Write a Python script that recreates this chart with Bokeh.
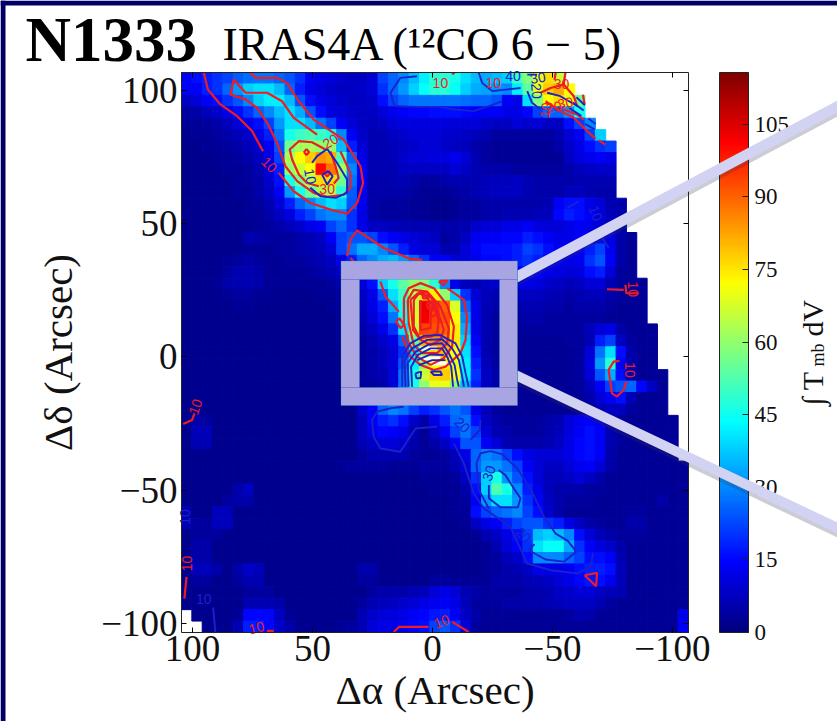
from bokeh.plotting import figure
from bokeh.embed import file_html
from bokeh.resources import INLINE
from bokeh.models import (ColumnDataSource, LinearColorMapper, ColorBar, FixedTicker, LinearAxis, Range1d,
                          Label, BoxAnnotation, PolyAnnotation)
from bokeh.transform import transform
from bokeh.core.properties import value

SERIF = "Liberation Serif"

# Integrated intensity per map cell (K km/s), top row first, columns left to right (east to west).
ROW_00 = [14,16,18,20,22,25,27,28,28,26,24,20,14,12,10,9,8,8,10,22,26,30,36,42,48,48,46,40,36,34,36,38,50,58,70,76,66]
ROW_01 = [14,14,18,20,26,32,38,40,40,36,26,18,12,10,9,8,8,9,10,20,26,32,38,44,48,48,44,38,34,33,32,30,42,54,70,78,82,72]
ROW_02 = [8,10,14,16,20,24,30,38,42,42,36,24,16,12,10,9,8,8,9,16,22,26,28,28,28,28,28,27,26,26,24,14,12,40,58,72,76,70,56]
ROW_03 = [4,5,7,9,12,16,20,26,30,36,40,34,24,16,11,10,9,8,8,10,13,14,15,15,16,16,16,15,14,14,14,12,12,15,22,26,26,32,45]
ROW_04 = [3,3,4,5,7,10,13,16,22,32,40,40,36,28,22,14,10,8,7,8,10,11,11,11,11,11,10,10,10,9,8,8,10,9,10,8,8,16,22,30]
ROW_05 = [2,3,3,4,5,7,9,12,18,28,46,50,52,50,46,30,14,9,6,6,8,9,10,10,10,9,9,8,7,6,4,4,4,4,4,4,6,10,14,22,38]
ROW_06 = [2,2,3,3,4,5,7,9,14,24,56,62,62,60,60,36,18,10,6,6,7,8,9,10,10,9,8,7,5,4,3,3,3,3,3,3,5,9,12,16,20,22]
ROW_07 = [2,2,2,3,3,4,5,8,12,22,62,72,78,84,82,52,26,12,6,6,7,9,10,10,11,11,13,10,6,4,3,3,3,3,3,3,3,8,11,13,14,12]
ROW_08 = [2,2,2,2,3,3,4,6,10,18,60,66,72,100,88,62,30,14,6,6,6,8,8,8,8,8,10,8,6,5,5,5,4,4,4,4,4,5,7,8,9,9]
ROW_09 = [2,2,2,2,2,3,4,5,9,16,46,56,64,76,76,56,28,14,5,5,6,6,5,4,4,5,6,6,6,7,7,7,8,6,5,5,5,5,6,6,6,6]
ROW_10 = [2,2,2,2,2,3,3,5,8,14,32,46,56,62,62,48,25,13,5,5,5,5,4,3,3,3,4,5,6,7,8,8,8,6,5,5,5,7,7,6,5,5]
ROW_11 = [2,2,2,2,2,2,3,4,6,10,18,26,30,36,40,38,24,13,5,4,4,4,3,3,2,2,3,4,4,5,5,5,5,5,5,6,14,16,16,12,10,6,5]
ROW_12 = [2,2,2,2,2,2,3,3,5,8,11,18,22,28,30,30,20,12,5,4,4,4,3,3,2,2,3,4,4,5,5,6,6,6,7,7,15,18,16,14,10,7,5]
ROW_13 = [2,2,2,2,2,2,2,3,4,5,7,9,12,14,22,26,20,12,8,8,7,6,6,6,6,5,5,6,9,10,10,12,12,14,11,10,10,12,14,12,10,7,5]
ROW_14 = [2,2,2,2,2,2,6,5,4,4,4,5,6,8,14,22,24,24,22,16,14,12,10,9,8,4,5,8,13,14,14,15,15,18,16,14,12,12,14,14,13,12,5,3]
ROW_15 = [2,2,2,2,2,2,3,3,3,4,4,5,6,7,10,22,28,34,34,30,24,18,12,10,10,6,6,10,14,16,16,16,18,22,20,16,14,12,14,18,22,13,5,3]
ROW_16 = [2,2,2,2,3,4,5,4,3,3,4,4,5,6,8,12,18,26,30,34,36,32,26,20,14,14,10,10,13,15,15,16,18,20,18,15,13,12,13,20,24,14,5,3]
ROW_17 = [2,2,2,2,4,6,6,5,3,3,3,3,4,5,6,8,12,18,26,34,40,44,42,36,28,20,12,8,10,12,12,14,14,16,14,12,11,10,11,16,18,10,4,3]
ROW_18 = [2,2,2,3,5,6,6,5,3,3,3,3,3,3,4,5,7,10,16,38,46,54,60,58,48,30,12,7,6,8,9,10,11,12,11,9,8,7,8,10,10,6,4,3,3]
ROW_19 = [2,2,2,2,3,4,4,3,3,2,2,2,2,3,3,4,5,8,12,24,40,50,64,76,74,60,38,20,10,7,6,6,7,8,8,7,6,5,6,7,7,5,4,3,3]
ROW_20 = [2,2,2,2,2,3,3,2,2,2,2,2,2,2,3,3,4,7,12,18,34,46,66,103,96,90,68,26,12,6,5,5,5,6,6,5,5,4,5,5,5,4,3,3,3]
ROW_21 = [2,2,2,2,2,2,2,2,2,2,2,2,2,2,2,3,4,6,10,16,28,44,68,102,94,92,72,30,12,6,4,4,4,5,5,4,4,4,4,4,4,3,3,3,3]
ROW_22 = [2,2,2,2,2,2,2,2,2,2,2,2,2,2,2,3,3,5,8,12,20,40,66,94,92,90,74,34,12,6,4,3,3,4,4,4,4,4,4,7,10,12,5,3,3,3]
ROW_23 = [2,2,2,2,2,2,2,2,2,2,2,2,2,2,2,3,3,4,6,9,12,26,54,80,85,85,75,38,14,6,4,3,3,3,3,3,3,4,4,6,18,22,8,4,3,3]
ROW_24 = [2,2,2,2,2,2,2,2,2,2,2,2,2,2,2,2,3,4,5,7,10,20,40,62,78,80,72,40,16,6,4,3,3,3,3,3,3,3,4,10,28,40,16,5,3,3]
ROW_25 = [2,2,2,2,2,2,2,2,2,2,2,2,2,2,2,2,3,4,5,7,10,24,42,60,72,75,70,42,18,7,4,3,3,3,3,3,3,3,4,11,32,48,14,5,3,3]
ROW_26 = [2,2,2,2,2,2,2,2,2,2,2,2,2,2,2,2,3,4,5,6,10,28,46,66,76,78,72,42,20,8,5,3,3,3,3,3,3,3,4,10,24,34,16,5,3,3,3]
ROW_27 = [2,2,2,2,2,2,2,2,2,2,2,2,2,2,2,2,3,4,4,5,10,28,46,60,70,70,60,36,18,8,5,3,3,3,3,3,3,3,4,7,14,22,24,26,15,8,3]
ROW_28 = [2,2,2,2,2,2,2,2,2,2,2,2,2,2,2,2,3,4,4,5,9,24,36,40,44,44,40,28,15,7,5,3,3,3,3,3,3,3,3,5,10,14,16,7,3,3,3]
ROW_29 = [2,2,2,2,2,2,2,2,2,2,2,2,2,2,2,2,2,9,14,26,30,28,22,18,20,24,28,24,12,7,4,3,3,3,3,3,3,3,3,3,6,8,8,4,3,3,3]
ROW_30 = [2,5,4,2,2,2,2,2,2,2,2,2,2,2,2,2,2,7,14,18,20,16,9,5,12,18,26,28,16,8,5,4,4,4,4,5,6,10,13,14,12,6,4,3,3,3,3,3]
ROW_31 = [2,7,7,2,2,2,2,2,2,2,2,2,2,2,2,2,2,7,12,15,14,12,6,3,8,14,22,28,22,10,6,5,4,4,4,5,7,11,14,16,14,6,4,3,3,3,3,3]
ROW_32 = [2,6,6,2,2,2,2,2,2,2,2,2,2,2,2,2,2,6,8,10,10,9,5,3,5,8,14,24,24,14,10,6,5,5,5,6,8,12,15,16,14,6,4,3,3,3,3,3]
ROW_33 = [2,2,2,2,2,2,2,2,2,2,2,2,2,2,2,2,2,4,6,6,6,6,4,3,3,4,7,12,26,30,28,22,16,12,10,10,10,12,15,16,14,5,3,3,3,3,3,3]
ROW_34 = [2,2,2,2,2,2,2,2,2,2,2,2,2,2,2,3,4,4,4,4,3,3,3,4,4,4,6,10,26,32,32,28,22,14,10,8,8,10,13,14,10,5,3,3,3,3,3,3,3]
ROW_35 = [2,2,2,2,2,2,2,2,2,2,2,2,2,2,2,2,2,2,2,2,2,2,2,3,3,3,4,8,20,38,46,32,24,16,10,7,7,8,10,8,5,3,3,3,3,3,3,3,3]
ROW_36 = [2,2,2,2,2,5,8,2,2,2,2,2,2,2,2,2,2,2,2,2,2,2,2,2,3,3,3,5,16,38,52,46,30,18,12,7,5,5,5,4,4,3,3,3,3,3,3,3,3]
ROW_37 = [2,2,2,2,4,5,5,2,2,2,2,2,2,2,2,2,2,2,2,2,2,2,2,2,2,2,3,4,14,32,40,40,32,20,14,8,5,4,4,4,3,3,3,3,3,3,5,3,3]
ROW_38 = [6,2,2,7,7,2,2,2,2,2,2,2,2,2,2,2,2,2,2,2,2,2,2,2,2,2,3,3,16,22,26,28,30,22,16,9,5,3,3,3,3,3,3,4,4,3,3,3,3]
ROW_39 = [6,4,4,7,7,2,2,2,2,2,2,2,2,2,2,2,2,2,2,2,2,2,2,2,2,2,2,3,8,12,14,18,22,24,24,20,18,12,8,5,4,3,3,5,5,3,3,3,3]
ROW_40 = [2,4,4,4,2,2,2,2,2,2,2,2,2,2,2,2,2,2,2,2,2,2,2,2,2,2,2,2,3,6,8,12,16,22,36,38,36,30,16,10,7,5,4,4,4,3,3,3,3]
ROW_41 = [2,5,5,2,2,2,2,2,2,2,2,2,2,2,2,2,2,2,2,2,2,2,2,2,2,2,2,2,2,3,6,10,14,20,40,44,44,34,20,14,11,9,5,3,3,3,3,3,3]
ROW_42 = [2,5,5,2,2,2,2,2,2,2,2,2,2,2,2,2,2,2,2,2,2,2,2,2,2,2,2,2,2,3,4,7,9,16,30,30,30,26,22,16,16,14,6,3,3,3,3,3,3]
ROW_43 = [2,7,7,5,2,5,9,7,2,2,2,2,2,2,2,2,2,5,5,2,2,2,2,2,2,2,2,2,2,3,4,5,6,8,12,12,12,13,16,18,18,16,7,3,3,3,3,3,3]
ROW_44 = [2,4,4,2,2,4,6,6,2,2,2,2,2,2,2,2,2,4,4,2,2,2,2,2,4,4,3,3,3,3,5,5,5,6,7,8,10,12,15,17,16,13,7,3,3,3,3,3,3]
ROW_45 = [2,2,2,2,2,2,4,4,4,2,2,2,2,2,2,2,2,2,4,5,5,5,6,7,10,12,10,6,5,4,4,4,4,5,5,6,8,9,10,10,8,7,6,3,3,3,3,3,3]
ROW_46 = [2,2,2,2,2,2,6,6,6,5,2,2,2,2,2,2,2,4,6,7,8,9,10,12,13,14,12,7,4,4,4,5,5,5,5,6,7,8,8,8,6,4,3,3,3,3,3,3,3]
ROW_47 = [None,2,2,2,2,3,15,15,15,8,3,2,2,2,2,2,2,6,9,10,11,12,14,15,17,18,14,8,5,3,3,3,3,3,3,3,3,4,6,5,3,3,3,3,3,3,3,3,12]
ROW_48 = [None,None,2,2,2,6,18,18,15,9,5,2,2,2,2,3,4,6,10,12,12,13,15,16,22,24,20,10,4,3,3,3,3,3,3,3,3,3,3,3,3,3,3,3,3,3,3,3,14]
MAP_ROWS = [ROW_00,ROW_01,ROW_02,ROW_03,ROW_04,ROW_05,ROW_06,ROW_07,ROW_08,ROW_09,ROW_10,ROW_11,ROW_12,ROW_13,ROW_14,ROW_15,
            ROW_16,ROW_17,ROW_18,ROW_19,ROW_20,ROW_21,ROW_22,ROW_23,ROW_24,ROW_25,ROW_26,ROW_27,ROW_28,ROW_29,ROW_30,ROW_31,
            ROW_32,ROW_33,ROW_34,ROW_35,ROW_36,ROW_37,ROW_38,ROW_39,ROW_40,ROW_41,ROW_42,ROW_43,ROW_44,ROW_45,ROW_46,ROW_47,ROW_48]

X_TICKS = [100, 50, 0, -50, -100]
Y_TICKS = [100, 50, 0, -50, -100]
TICK_TEXT = {100: "100", 50: "50", 0: "0", -50: "\u221250", -100: "\u2212100"}
NO_TEXT = {100: "", 50: "", 0: "", -50: "", -100: ""}
CBAR_TICKS = [0, 15, 30, 45, 60, 75, 90, 105]

# Contours (x, y in arcsec)
WHITE_X = [[5.0,-1.9],[5.0,-3.3],[0.8,-6.1]]
WHITE_Y = [[3.2,3.2],[-0.5,-0.5],[-2.7,-2.4]]
RED_X = [
 [95.3,93.6,88.4,81.4,75.2,70.6],
 [64.1,57.8,50.9,42.5,35.6,31.4,28.9,30.0,37.0,49.5,55.7,60.6,64.8,73.8,75.9],
 [48.1,57.8,62.7,68.9,77.9,82.8,84.2,77.9,73.1,68.9,64.8,61.3,56.4,49.5,43.9,37.0,34.2,34.2,38.4],
 [44.6,50.2,55.7,59.5,58.5,55.7,52.3,47.4],
 [42.5,40.4,39.1,41.1],
 [53.6,52.5,51.4,52.5,53.6],
 [45.0,43.9,42.8,43.9,45.0],
 [35.6,34.2,31.4,20.3,9.2,4.3],
 [34.2,30.0],
 [21.7,19.6,14.0],
 [-6.1,-13.1,-14.4,-13.8,-11.7,-5.4,-0.6,5.0,9.2,12.6],
 [15.3,13.7,11.9,13.3,15.3],
 [-2.6,-6.4,-4.7,-2.6],
 [11.9,9.9,5.0,-0.6,-6.1,-8.9,-8.2,-4.7,0.8,6.4,9.9,11.9,11.9],
 [10.3,7.8,2.2,-3.3,-6.8,-6.1,-1.9,4.3,7.8,9.9,10.3],
 [9.2,6.1,0.8,-2.0,-4.7,-3.3,0.8,5.0,8.1,9.2],
 [7.8,5.0,-0.6,-2.6,-2.0,0.8,5.3,7.8,7.8],
 [5.0,5.0,0.8,0.8],
 [4.3,2.2,1.5,3.9,4.3],
 [2.5,0.1,-0.3,1.9,2.5],
 [0.8,-1.2,-1.7,0.6,0.8],
 [-47.1,-53.3,-58.9,-64.5,-68.0],
 [-69.3,-72.1],
 [-45.0,-49.2,-54.7,-58.9,-60.3],
 [-54.7,-55.4],
 [-54.7,-60.3,-63.1],
 [-51.3,-50.9],
 [-62.7,-63.4],
 [-8.2,-9.2],
 [-63.4,-68.6,-68.2,-63.4],
 [-8.2,-15.1],
 [69.0,66.1],
 [16.1,14.0,1.6],
 [102.5,103.4],
 [103.9,100.2,99.2],
 [-78.0,-75.5,-73.4,-74.8,-76.9,-79.7,-80.8],
 [-72.7,-79.7],
 [-80.4,-80.8,-86.0],
]
RED_Y = [
 [106.7,100.4,94.8,90.4,84.8,77.2],
 [69.1,62.2,57.8,55.3,53.8,57.8,65.3,71.6,81.6,89.1,96.0,102.9,104.8,104.8,106.7],
 [83.5,89.8,96.0,99.2,99.2,104.2,98.5,96.7,93.5,87.9,80.4,71.6,66.0,61.6,60.1,60.9,63.5,69.1,77.2],
 [77.9,80.6,81.0,77.9,74.1,68.5,65.3,64.1],
 [77.2,71.6,67.2,65.1],
 [76.9,78.0,76.9,75.8,76.9],
 [68.8,69.9,68.8,67.7,68.8],
 [37.8,44.0,47.5,40.9,36.8,36.4],
 [37.1,33.0],
 [28.3,22.7,17.0],
 [25.8,21.4,15.1,6.4,1.4,-3.7,-4.9,-3.0,0.1,7.6],
 [13.3,14.5,12.0,10.8,13.3],
 [28.3,28.9,27.0,28.3],
 [22.0,25.8,27.7,25.8,19.5,11.4,3.9,-0.5,-3.0,0.1,5.1,12.6,22.0],
 [21.4,25.2,24.5,18.9,10.8,5.1,1.4,1.4,4.5,12.6,21.4],
 [21.4,23.9,22.7,17.6,10.1,6.4,4.5,6.4,10.1,21.4],
 [21.4,24.5,19.5,13.9,8.9,7.6,7.0,11.4,21.4],
 [21.4,10.1,10.8,17.0],
 [23.9,24.2,22.0,22.0,23.9],
 [20.2,20.4,18.6,18.3,20.2],
 [17.6,18.3,15.8,15.1,17.6],
 [96.0,92.3,89.8,84.8,81.9],
 [81.3,79.7],
 [99.2,101.0,102.3,97.9,94.2],
 [102.3,106.7],
 [92.9,91.0,89.1],
 [106.7,104.0],
 [98.5,94.8],
 [106.1,106.7],
 [-82.0,-81.1,-86.1,-82.0],
 [-99.5,-103.3],
 [-102.9,-102.9],
 [-103.3,-101.4,-101.4],
 [-82.6,-90.8],
 [-25.2,-23.7,-21.2],
 [-1.5,-1.8,-4.9,-13.7,-14.9,-12.4,-9.3],
 [25.4,25.2],
 [27.0,23.9,23.9],
]
BLUE_X = [
 [43.9,48.1,50.2],
 [43.9,39.8,35.6,35.6,40.4,46.7,50.9],
 [46.0,43.2,41.6,43.9,46.0],
 [-19.3,-20.7,-24.9,-36.7],
 [-39.5,-43.6],
 [15.9,6.4,-3.3,-8.9,-17.2,-25.6,-29.0],
 [15.9,17.5,13.4,6.4],
 [-39.5,-41.5,-45.0],
 [-47.8,-53.3,-60.3],
 [-60.0,-63.5],[-58.5,-63.0],[-57.0,-62.0],[-65.0,-68.0],[-63.5,-67.5],
 [12.6,12.6,9.2,3.6,-3.3,-9.6,-12.4,-13.8,-15.1],
 [11.2,11.7,8.5,2.2,-4.0,-8.2,-11.0,-12.4,-13.1],
 [9.9,10.3,7.1,1.5,-4.0,-6.8,-9.2,-10.3,-11.0],
 [8.5,8.9,6.1,0.8,-4.0,-6.1,-7.8,-8.6],
 [6.4,0.8,-4.7],
 [5.7,0.1,-5.4],
 [7.1,4.7,5.0,6.7,7.1],
 [0.8,-3.3,-4.0,-0.6,0.8],
 [24.5,25.2,23.1,17.5,12.0],
 [24.5,21.7,13.4,7.1,-1.9],
 [-20.0,-19.7,-15.8],
 [-8.9,-13.1,-17.2,-21.4,-32.5,-39.5,-49.2,-60.3,-65.8,-67.0],
 [-42.5,-40.1,-47.1,-54.7,-60.0,-56.4,-51.3,-46.4,-40.8,-35.3,-29.0,-24.2,-20.0,-18.3,-19.3,-23.5],
 [-27.6,-30.4,-33.9,-36.7,-35.6,-28.3,-23.5,-23.5],
 [91.4,90.5],
 [-56.1,-61.0],
 [-68.6,-73.5],
]
BLUE_Y = [
 [78.1,75.4,72.9],
 [78.1,72.9,66.6,61.6,59.7,60.3,63.5],
 [68.5,69.7,67.8,64.7,68.5],
 [106.7,102.9,99.8,101.0],
 [106.0,106.0],
 [94.2,93.9,93.9,92.9,92.3,94.8,96.0],
 [94.2,99.2,104.8,105.4],
 [99.8,95.4,92.9],
 [99.2,97.9,94.2],
 [97.5,94.5],[95.5,92.5],[93.5,90.5],[89.5,87.5],[87.5,85.5],
 [-11.2,0.1,5.1,7.9,8.2,5.1,0.1,-6.2,-11.2],
 [-11.2,-1.2,3.2,6.4,6.6,3.2,-1.2,-7.4,-11.2],
 [-11.2,-2.4,1.9,4.7,5.1,1.4,-3.0,-8.7,-11.2],
 [-11.2,-3.7,0.7,3.2,3.2,0.1,-3.7,-11.2],
 [-1.2,0.9,0.7],
 [-3.1,-1.2,-1.2],
 [-6.2,-5.5,-8.0,-8.0,-6.2],
 [-5.5,-5.5,-6.8,-6.8,-5.5],
 [-30.0,-23.7,-20.6,-19.3,-18.7],
 [-30.0,-34.4,-35.6,-26.9,-26.2],
 [-23.7,-27.5,-31.2],
 [-32.5,-40.0,-51.3,-56.9,-63.8,-77.6,-80.1,-81.3,-78.8,-73.8],
 [-70.3,-72.6,-76.1,-76.9,-73.2,-69.1,-66.3,-60.0,-49.4,-41.9,-36.5,-35.4,-36.2,-40.0,-50.0,-56.9],
 [-42.5,-44.4,-49.4,-53.1,-56.5,-56.5,-53.1,-48.1],
 [-94.1,-103.3],
 [55.9,58.4],
 [47.8,40.9],
]
RED_LABEL_X = [68.0,42.5,43.9,-3.3,-25.3,-53.8,-47.1,-50.6,-55.4,-3.8,73.4,102.5,98.8,-82.2,-83.6]
RED_LABEL_Y = [72.2,81.0,63.1,102.7,102.7,102.3,92.6,93.9,95.4,-99.3,-101.7,-77.6,-18.7,-4.9,25.4]
RED_LABEL_A = [-45,30,0,0,0,0,80,10,10,20,15,90,70,-90,-90]
RED_LABEL_T = ["10","20","30","10","10","30","10","20","30","10","10","10","10","10","10"]
BLUE_LABEL_X = [50.9,-33.6,-43.9,-43.4,-23.5,-37.8,-12.4,95.3,103.0,-68.0]
BLUE_LABEL_Y = [67.8,105.4,104.8,99.8,-43.7,-66.9,-25.6,-90.8,-60.1,53.9]
BLUE_LABEL_A = [-80,0,10,-85,70,-45,-45,0,90,-70]
BLUE_LABEL_T = ["10","40","30","20","30","20","20","10","10","10"]


def jet(n=256):
    out = []
    for i in range(n):
        t = i / (n - 1)
        r = min(max(min(4 * t - 1.5, -4 * t + 4.5), 0), 1)
        g = min(max(min(4 * t - 0.5, -4 * t + 3.5), 0), 1)
        b = min(max(min(4 * t + 0.5, -4 * t + 2.5), 0), 1)
        out.append("#%02x%02x%02x" % (int(r * 255), int(g * 255), int(b * 255)))
    return out


X_LEFT, X_RIGHT = 104.6, -106.7
Y_BOTTOM, Y_TOP = -103.5, 106.8
N = 49
dx = (X_LEFT - X_RIGHT) / N
dy = (Y_TOP - Y_BOTTOM) / N
cx, cy, cv = [], [], []
for j, row in enumerate(MAP_ROWS):
    for i, v in enumerate(row):
        if v is not None:
            cx.append(X_LEFT - (i + 0.5) * dx)
            cy.append(Y_TOP - (j + 0.5) * dy)
            cv.append(v)
src = ColumnDataSource(dict(x=cx, y=cy, v=cv))
mapper = LinearColorMapper(palette=jet(), low=0, high=115.7)

# The frame fills the whole page so that the slide decoration is not cut at the map's edge.
kx = (X_LEFT - X_RIGHT) / 507
ky = (Y_TOP - Y_BOTTOM) / 560
p = figure(width=837, height=721, output_backend="svg", toolbar_location=None,
           x_range=Range1d(X_LEFT + 181 * kx, X_RIGHT - 149 * kx),
           y_range=Range1d(Y_BOTTOM - 89 * ky, Y_TOP + 72 * ky),
           min_border_left=0, min_border_top=0, min_border_bottom=0, min_border_right=0,
           background_fill_color="white", border_fill_color="white", outline_line_color=None)
p.grid.visible = False
p.rect("x", "y", width=dx, height=dy, source=src, fill_color=transform("v", mapper),
       line_color=transform("v", mapper), line_width=1)

for ax, ticks, loc, bounds in ((p.xaxis[0], X_TICKS, Y_BOTTOM, (X_RIGHT, X_LEFT)), (p.yaxis[0], Y_TICKS, X_LEFT, (Y_BOTTOM, Y_TOP))):
    ax.ticker = FixedTicker(ticks=ticks)
    ax.fixed_location = loc
    ax.bounds = bounds
    ax.major_label_overrides = TICK_TEXT
    ax.major_label_text_font = SERIF
    ax.major_label_text_font_size = "37px"
    ax.major_label_text_color = "#111111"
    ax.major_tick_in = 5
    ax.major_tick_out = 0
    ax.minor_tick_line_color = None
    ax.axis_line_color = "#222222"
    ax.axis_label_text_font = SERIF
    ax.axis_label_text_font_style = "normal"
    ax.axis_label_text_font_size = "41px"
    ax.axis_label_text_color = "#111111"
p.xaxis[0].axis_label = "\u0394\u03b1 (Arcsec)"
p.yaxis[0].axis_label = "\u0394\u03b4 (Arcsec)"
p.xaxis[0].major_label_standoff = 3
p.yaxis[0].major_label_standoff = 4
p.xaxis[0].axis_label_standoff = 3
p.yaxis[0].axis_label_standoff = 17
p.yaxis[0].major_label_orientation = "horizontal"

top = LinearAxis(ticker=FixedTicker(ticks=X_TICKS), major_label_overrides=NO_TEXT, major_label_text_font_size="1px",
                 fixed_location=Y_TOP, bounds=(X_RIGHT, X_LEFT),
                 major_tick_in=5, major_tick_out=0, minor_tick_line_color=None, axis_line_color="#222222")
right = LinearAxis(ticker=FixedTicker(ticks=Y_TICKS), major_label_overrides=NO_TEXT, major_label_text_font_size="1px",
                   fixed_location=X_RIGHT, bounds=(Y_BOTTOM, Y_TOP),
                   major_tick_in=5, major_tick_out=0, minor_tick_line_color=None, axis_line_color="#222222")
p.add_layout(top, "above")
p.add_layout(right, "right")

cb = ColorBar(color_mapper=mapper, ticker=FixedTicker(ticks=CBAR_TICKS), width=29, height=560,
              location=(719, 89), padding=0, margin=0, major_label_text_font=SERIF, major_label_text_font_size="23px",
              major_label_text_color="#111111", major_tick_line_color="#222222", major_tick_in=6,
              minor_tick_line_color=None, bar_line_color="#222222", label_standoff=6)
p.add_layout(cb)

p.multi_line(WHITE_X, WHITE_Y, line_color="white", line_width=3.5)
p.multi_line(RED_X, RED_Y, line_color="#ee1c25", line_width=2.2)
p.multi_line(BLUE_X, BLUE_Y, line_color="#1a22c8", line_width=1.9)
p.text(RED_LABEL_X, RED_LABEL_Y, text=RED_LABEL_T, angle=RED_LABEL_A, angle_units="deg", text_color="#ee1c25",
       text_font=value("Liberation Sans"), text_font_size="14px", text_align="center", text_baseline="middle")
p.text(BLUE_LABEL_X, BLUE_LABEL_Y, text=BLUE_LABEL_T, angle=BLUE_LABEL_A, angle_units="deg", text_color="#1a22c8",
       text_font=value("Liberation Sans"), text_font_size="14px", text_align="center", text_baseline="middle")

# Slide decoration (page pixels)
NAVY = "#000066"
LILAC = "#a8a5e2"
BAND = "#d2d2f2"


def box(l, r, t, b, fill, line=None, alpha=1.0):
    p.add_layout(BoxAnnotation(left=l, right=r, top=t, bottom=b, left_units="canvas", right_units="canvas",
                               top_units="canvas", bottom_units="canvas", fill_color=fill, fill_alpha=alpha,
                               line_color=line, line_width=1 if line else 0, level="overlay"))


def poly(xs, ys, fill, alpha=1.0):
    p.add_layout(PolyAnnotation(xs=xs, ys=ys, xs_units="canvas", ys_units="canvas", fill_color=fill,
                                fill_alpha=alpha, line_color=None, level="overlay"))


box(0, 837, 0, 5, NAVY)
box(0, 5, 0, 721, NAVY)
poly([517, 837, 837, 517], [274, 104, 116, 286], "#333355", 0.25)
poly([517, 837, 837, 517], [270, 100, 112, 282], BAND)
poly([517, 837, 837, 517], [374, 526, 537, 385], "#333355", 0.25)
poly([517, 837, 837, 517], [370, 522, 533, 381], BAND)
box(340.5, 517, 260.5, 279, LILAC)
box(340.5, 517, 387, 405, LILAC)
box(340.5, 359, 279, 387, LILAC)
box(499, 517, 279, 387, LILAC)
box(340.5, 517, 260.5, 405, None, "#20a0a0")
box(359, 499, 279, 387, None, "#20a0a0")

for txt, x, y, size, style in (("N1333", 25, 39, "63px", "bold"), ("IRAS4A (\u00b9\u00b2CO 6 \u2212 5)", 222, 44, "46px", "normal")):
    p.add_layout(Label(x=x, y=y, x_units="canvas", y_units="canvas", text=txt, text_font=SERIF, text_font_size=size,
                       text_font_style=style, text_color="#000000", text_baseline="alphabetic"))

for txt, y, size, off in (("\u222b T", 405, "30px", 812), ("mb", 366, "18px", 817), ("dV", 336, "30px", 812)):
    p.add_layout(Label(x=off, y=y, x_units="canvas", y_units="canvas", text=txt, text_font=SERIF, text_font_size=size,
                       text_color="#111111", angle=90, angle_units="deg", text_baseline="alphabetic"))

open("out.html", "w").write(file_html(p, INLINE))
